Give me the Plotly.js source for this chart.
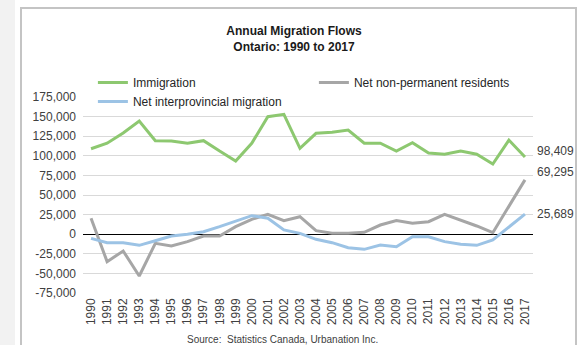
<!DOCTYPE html>
<html>
<head>
<meta charset="utf-8">
<script src="https://cdn.plot.ly/plotly-3.0.1.min.js"></script>
<style>
  html, body { margin: 0; padding: 0; background: #ffffff; }
  #wrap { position: relative; width: 581px; height: 345px; overflow: hidden; background: #ffffff; }
  #strip { position: absolute; left: 0; top: 0; width: 15px; height: 345px; background: #f2f2f2; }
  #frame { position: absolute; left: 20px; top: 7px; width: 553px; height: 360px;
           border-left: 2px solid #c4c4c4; border-top: 2px solid #c4c4c4; border-right: 2px solid #c4c4c4; }
  #chart { position: absolute; left: 0; top: 0; width: 581px; height: 345px; }
</style>
</head>
<body>
<div id="wrap">
  <div id="strip"></div>
  <div id="frame"></div>
  <div id="chart"></div>
</div>
<script>
const years = ['1990','1991','1992','1993','1994','1995','1996','1997','1998','1999',
               '2000','2001','2002','2003','2004','2005','2006','2007','2008','2009',
               '2010','2011','2012','2013','2014','2015','2016','2017'];

const immigration = [109000, 116000, 129000, 144400, 119300, 119000, 116000, 119300, 106000, 93400,
                     116000, 149900, 152900, 109600, 128700, 130000, 132900, 116000, 116000, 106100,
                     116800, 103500, 102000, 106000, 102000, 89500, 120000, 98409];

const nonPermanent = [20300, -35000, -21400, -53300, -11700, -15000, -9500, -2300, -2300, 9600,
                      19000, 25400, 17300, 22300, 4500, 1100, 1100, 2400, 11700, 17300,
                      13900, 16000, 25400, 18100, 10500, 1900, 35000, 69295];

const interprovincial = [-5300, -10800, -10800, -14200, -8300, -2300, -100, 3200, 9600, 16800,
                         23600, 20300, 5400, 1100, -6500, -10800, -17200, -19300, -13800, -15900,
                         -3200, -3200, -9500, -12900, -14200, -7400, 9600, 25689];

const seriesNames = ['Immigration', 'Net non-permanent residents', 'Net interprovincial migration'];

const yTickVals = [-75000, -50000, -25000, 0, 25000, 50000, 75000, 100000, 125000, 150000, 175000];
const yTickText = ['-75,000', '-50,000', '-25,000', '0', '25,000', '50,000', '75,000',
                   '100,000', '125,000', '150,000', '175,000'];

const colors = ['#8dc870', '#a6a6a6', '#9cc3e5'];
const txt = '#404040';
const font = 'Liberation Sans, Arial, sans-serif';

const data = [immigration, nonPermanent, interprovincial].map((vals, i) => ({
  type: 'scatter', mode: 'lines', x: years, y: vals, name: seriesNames[i],
  line: { color: colors[i], width: 3 }, hoverinfo: 'skip'
}));

const last = years.length - 1;
const fmt = v => v.toLocaleString('en-US');

const layout = {
  width: 581, height: 345,
  margin: { l: 83, r: 48, t: 97, b: 52, autoexpand: false },
  paper_bgcolor: 'rgba(0,0,0,0)', plot_bgcolor: 'rgba(0,0,0,0)',
  font: { family: font, size: 12, color: txt },
  title: {
    text: '<b>Annual Migration Flows</b><br><b>Ontario: 1990 to 2017</b>',
    font: { family: font, size: 12, color: '#1a1a1a' },
    xref: 'container', x: 294 / 581, xanchor: 'center',
    yref: 'container', y: 1 - 35 / 345, yanchor: 'top', automargin: false
  },
  showlegend: true,
  legend: {
    orientation: 'h', entrywidth: 176, entrywidthmode: 'pixels',
    xref: 'paper', x: 0.022, xanchor: 'left',
    yref: 'container', y: 1 - 68 / 345, yanchor: 'top',
    bgcolor: 'rgba(0,0,0,0)', font: { family: font, size: 12, color: '#262626' },
    traceorder: 'normal', itemwidth: 30
  },
  xaxis: {
    type: 'category', range: [-0.5, years.length - 0.5],
    showgrid: false, zeroline: false, showline: false, ticks: '',
    tickangle: -90, tickfont: { family: font, size: 12, color: txt },
    ticklabelstandoff: 2,
    automargin: false, fixedrange: true
  },
  yaxis: {
    range: [-75000, 175000], tickvals: yTickVals, ticktext: yTickText,
    showgrid: true, gridcolor: '#d9d9d9', gridwidth: 1,
    zeroline: true, zerolinecolor: '#000000', zerolinewidth: 1,
    showline: false, ticks: '', ticklen: 0,
    tickfont: { family: font, size: 12, color: txt },
    ticklabelstandoff: 6,
    automargin: false, fixedrange: true
  },
  annotations: [
    { x: last, y: immigration[last], text: fmt(immigration[last]), showarrow: false,
      xanchor: 'left', yanchor: 'middle', xshift: 10, yshift: 6, font: { size: 12, color: txt } },
    { x: last, y: nonPermanent[last], text: fmt(nonPermanent[last]), showarrow: false,
      xanchor: 'left', yanchor: 'middle', xshift: 10, yshift: 8, font: { size: 12, color: txt } },
    { x: last, y: interprovincial[last], text: fmt(interprovincial[last]), showarrow: false,
      xanchor: 'left', yanchor: 'middle', xshift: 10, yshift: 0, font: { size: 12, color: txt } },
    { xref: 'paper', yref: 'paper', x: 199 / 450, y: -(339 - 293) / 196,
      text: 'Source:  Statistics Canada, Urbanation Inc.', showarrow: false,
      xanchor: 'center', yanchor: 'middle', font: { size: 10, color: txt } }
  ]
};

Plotly.newPlot('chart', data, layout, { displayModeBar: false, staticPlot: true });
</script>
</body>
</html>
